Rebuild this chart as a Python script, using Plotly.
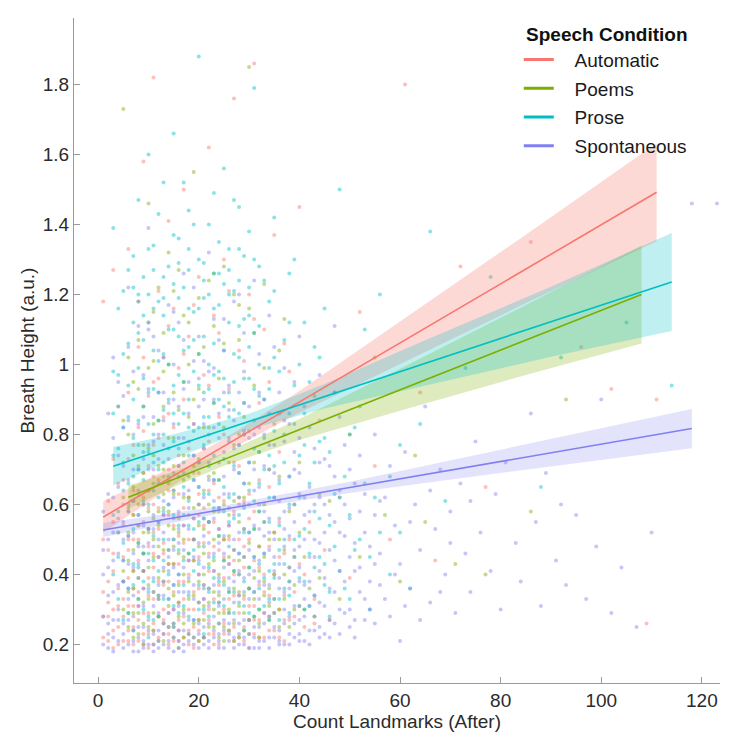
import plotly.graph_objects as go

# ---------------- data ----------------
GROUPS = ["Automatic", "Poems", "Prose", "Spontaneous"]
COLORS = {"Automatic": "#F8766D", "Poems": "#7CAE00", "Prose": "#00BFC4", "Spontaneous": "#8080F2"}
POINT_RGBA = {"Automatic": "rgba(248,118,109,0.45)", "Poems": "rgba(124,174,0,0.45)",
              "Prose": "rgba(0,191,196,0.45)", "Spontaneous": "rgba(128,128,242,0.45)"}
BAND_RGBA = {"Automatic": "rgba(248,118,109,0.28)", "Poems": "rgba(124,174,0,0.25)",
             "Prose": "rgba(0,191,196,0.25)", "Spontaneous": "rgba(128,128,242,0.22)"}

AUTO_PTS = [(1,0.22),(1,0.35),(1,1.18),(2,0.28),(2,0.47),(2,0.61),(3,0.19),(3,0.41),(3,0.73),(3,1.27),(4,0.25),(4,0.52),(4,0.88),(5,0.21),(5,0.33),(5,0.45),(5,0.67),(6,0.24),(6,0.39),(6,0.58),(6,0.92),(6,1.33),(7,0.2),(7,0.31),(7,0.5),(7,0.77),(8,0.27),(8,0.44),(8,0.63),(8,1.05),(9,0.23),(9,0.36),(9,0.55),(9,0.81),(9,1.58),(10,0.19),(10,0.29),(10,0.48),(10,0.71),(10,1.12),(11,0.26),(11,0.42),(11,0.6),(11,0.95),(11,1.82),(12,0.22),(12,0.34),(12,0.53),(12,0.79),(12,1.21),(13,0.3),(13,0.46),(13,0.68),(13,1.02),(14,0.2),(14,0.38),(14,0.57),(14,0.86),(14,1.41),(15,0.25),(15,0.43),(15,0.64),(15,1.16),(16,0.21),(16,0.32),(16,0.51),(16,0.74),(17,0.28),(17,0.49),(17,0.9),(17,1.5),(18,0.24),(18,0.4),(18,0.62),(18,1.08),(19,0.19),(19,0.35),(19,0.56),(19,0.83),(20,0.27),(20,0.45),(20,0.69),(20,1.25),(21,0.22),(21,0.37),(21,0.59),(21,0.97),(22,0.3),(22,0.52),(22,0.78),(22,1.62),(23,0.2),(23,0.41),(23,0.66),(23,1.14),(24,0.26),(24,0.47),(24,0.85),(25,0.23),(25,0.39),(25,0.61),(25,1.3),(26,0.33),(26,0.54),(26,0.93),(27,0.21),(27,0.44),(27,0.72),(27,1.76),(28,0.29),(28,0.5),(28,1.04),(29,0.25),(29,0.42),(29,0.8),(30,0.19),(30,0.36),(30,0.63),(30,1.2),(31,0.31),(31,0.58),(31,1.86),(32,0.27),(32,0.48),(32,0.89),(33,0.22),(33,0.4),(33,1.1),(34,0.34),(34,0.65),(35,0.24),(35,0.52),(35,1.37),(36,0.3),(36,0.75),(37,0.21),(37,0.46),(38,0.38),(38,0.98),(39,0.28),(39,0.6),(40,0.43),(40,1.45),(41,0.25),(42,0.55),(43,0.33),(44,0.84),(45,0.47),(46,0.27),(48,0.62),(50,0.39),(52,1.15),(55,0.71),(58,0.5),(61,1.8),(64,0.92),(67,0.44),(72,1.28),(77,0.65),(86,1.35),(96,1.05),(102,0.93),(109,0.26),(111,0.9),
            (1,0.28),(1,0.5),(2,0.21),(2,0.38),(3,0.3),(3,0.55),(4,0.2),(4,0.36),(4,0.66),(5,0.28),(5,0.54),(6,0.31),(6,0.47),(6,0.73),(7,0.25),(7,0.41),(7,0.64),(8,0.21),(8,0.35),(8,0.54),(8,0.82),(9,0.29),(9,0.46),(9,0.69),(10,0.23),(10,0.39),(10,0.59),(10,0.91),(11,0.2),(11,0.33),(11,0.52),(11,0.77),(12,0.28),(12,0.45),(12,0.67),(13,0.23),(13,0.37),(13,0.57),(13,0.85),(14,0.29),(14,0.47),(14,0.7),(15,0.21),(15,0.35),(15,0.54),(15,0.82),(16,0.27),(16,0.43),(16,0.63),(16,0.99),(17,0.22),(17,0.38),(17,0.59),(18,0.3),(18,0.5),(18,0.76),(19,0.25),(19,0.44),(19,0.69),(20,0.21),(20,0.36),(20,0.57),(21,0.29),(21,0.49),(21,0.76),(22,0.23),(22,0.41),(22,0.64),(23,0.33),(23,0.55),(24,0.2),(24,0.37),(24,0.62),(25,0.3),(25,0.5),(25,0.8),(26,0.24),(26,0.43),(27,0.34),(27,0.58),(28,0.22),(28,0.4),(28,0.71),(29,0.33),(29,0.61),(30,0.27),(30,0.5),(31,0.23),(31,0.44),(32,0.37),(32,0.67),(33,0.29),(33,0.55),(34,0.24),(34,0.48),(35,0.4),(36,0.22),(36,0.55),(37,0.34),(38,0.27),(39,0.45),(40,0.31)]
AUTO_PTS_B = [(2,0.32),(3,0.24),(3,0.46),(4,0.31),(5,0.38),(5,0.6),(6,0.21),(6,0.5),(7,0.36),(7,0.57),(8,0.31),(8,0.5),(9,0.2),(9,0.41),(9,0.62),(10,0.34),(10,0.53),(11,0.24),(11,0.46),(11,0.68),(12,0.38),(12,0.59),(13,0.27),(13,0.49),(14,0.23),(14,0.43),(14,0.64),(15,0.3),(15,0.5),(16,0.24),(16,0.38),(16,0.57),(17,0.33),(17,0.54),(18,0.2),(18,0.44),(19,0.3),(19,0.5),(20,0.24),(20,0.4),(20,0.63),(21,0.33),(21,0.54),(22,0.27),(22,0.46),(23,0.23),(23,0.48),(24,0.32),(24,0.53),(25,0.26),(25,0.45),(26,0.29),(26,0.5),(27,0.25),(27,0.4),(28,0.34),(28,0.6),(29,0.21),(29,0.48),(30,0.31),(30,0.56),(31,0.27),(32,0.22),(32,0.42),(33,0.35),(34,0.28),(35,0.33),(36,0.45),(37,0.27),(38,0.5),(39,0.35),(41,0.4),(43,0.26),
              (9,1.02),(12,0.96),(14,1.11),(17,1.03),(19,1.17),(22,0.94),(24,1.09),(26,1.21),(29,1.01),(31,1.13),(34,0.95),(37,1.06)]

POEM_PTS = [(5,0.3),(5,0.62),(5,1.73),(6,0.25),(6,0.44),(6,0.8),(7,0.22),(7,0.36),(7,0.57),(7,0.95),(8,0.29),(8,0.49),(8,0.71),(8,1.18),(9,0.2),(9,0.41),(9,0.6),(9,0.88),(10,0.33),(10,0.52),(10,0.76),(10,1.46),(11,0.24),(11,0.45),(11,0.66),(11,1.01),(12,0.28),(12,0.39),(12,0.58),(12,0.84),(12,1.22),(13,0.21),(13,0.47),(13,0.7),(13,1.09),(14,0.31),(14,0.54),(14,0.79),(14,1.32),(15,0.26),(15,0.43),(15,0.63),(15,0.92),(16,0.19),(16,0.37),(16,0.56),(16,0.87),(16,1.27),(17,0.3),(17,0.5),(17,0.74),(17,1.14),(18,0.23),(18,0.46),(18,0.68),(18,1.0),(19,0.34),(19,0.59),(19,0.9),(19,1.55),(20,0.27),(20,0.48),(20,0.73),(20,1.19),(21,0.22),(21,0.4),(21,0.64),(21,1.05),(22,0.32),(22,0.55),(22,0.82),(22,1.24),(23,0.25),(23,0.44),(23,0.69),(23,1.11),(24,0.29),(24,0.51),(24,0.96),(25,0.21),(25,0.38),(25,0.6),(25,1.28),(26,0.35),(26,0.57),(26,0.89),(27,0.26),(27,0.47),(27,0.77),(27,1.2),(28,0.31),(28,0.62),(28,1.07),(29,0.24),(29,0.45),(29,0.85),(30,0.36),(30,0.66),(30,1.16),(30,1.85),(31,0.28),(31,0.53),(31,0.94),(32,0.22),(32,0.41),(32,0.75),(33,0.34),(33,0.6),(33,1.23),(34,0.27),(34,0.5),(35,0.4),(35,0.83),(36,0.3),(36,0.68),(37,0.47),(37,1.13),(38,0.25),(38,0.58),(39,0.37),(40,0.72),(41,0.3),(42,0.52),(43,0.91),(44,0.39),(46,0.61),(48,0.33),(50,0.8),(52,0.45),(55,1.02),(57,0.57),(60,0.38),(63,0.74),(65,0.55),(71,0.43),(77,0.4),(86,0.58),(93,0.9),
            (5,0.41),(5,0.84),(6,0.35),(6,0.59),(6,1.02),(7,0.29),(7,0.47),(7,0.74),(8,0.23),(8,0.39),(8,0.6),(8,0.93),(9,0.32),(9,0.52),(9,0.77),(10,0.25),(10,0.42),(10,0.64),(10,0.99),(11,0.35),(11,0.56),(11,0.83),(12,0.21),(12,0.48),(12,0.71),(13,0.38),(13,0.59),(13,0.88),(14,0.25),(14,0.43),(14,0.66),(14,1.0),(15,0.34),(15,0.53),(15,0.79),(16,0.28),(16,0.46),(16,0.71),(17,0.22),(17,0.4),(17,0.62),(17,0.95),(18,0.33),(18,0.57),(18,0.85),(19,0.26),(19,0.44),(19,0.71),(20,0.21),(20,0.38),(20,0.6),(20,0.93),(21,0.31),(21,0.53),(21,0.82),(22,0.25),(22,0.43),(22,0.68),(23,0.35),(23,0.58),(23,0.89),(24,0.22),(24,0.4),(24,0.67),(25,0.29),(25,0.5),(25,0.82),(26,0.24),(26,0.45),(26,0.72),(27,0.36),(27,0.61),(28,0.22),(28,0.44),(28,0.8),(29,0.34),(29,0.62),(30,0.27),(30,0.49),(31,0.39),(31,0.72),(32,0.3),(32,0.58),(33,0.45),(34,0.36),(34,0.7),(35,0.29),(36,0.5),(37,0.33),(38,0.42),(40,0.52),(42,0.36),(44,0.63)]
POEM_PTS_B = [(6,0.29),(6,0.52),(7,0.41),(7,0.65),(8,0.33),(8,0.54),(9,0.26),(9,0.46),(9,0.69),(10,0.37),(10,0.58),(11,0.29),(11,0.5),(11,0.74),(12,0.33),(12,0.54),(13,0.26),(13,0.41),(13,0.63),(14,0.36),(14,0.58),(15,0.22),(15,0.48),(15,0.71),(16,0.32),(16,0.52),(17,0.26),(17,0.45),(17,0.67),(18,0.38),(18,0.62),(19,0.22),(19,0.5),(20,0.32),(20,0.54),(21,0.27),(21,0.46),(22,0.36),(22,0.6),(23,0.3),(23,0.5),(24,0.34),(24,0.58),(25,0.25),(25,0.44),(26,0.3),(26,0.51),(27,0.21),(27,0.41),(28,0.35),(28,0.55),(29,0.29),(29,0.53),(30,0.23),(30,0.42),(31,0.33),(32,0.26),(32,0.48),(33,0.38),(34,0.31),(35,0.52),(36,0.25),(37,0.4),(39,0.3),(41,0.45),(43,0.28),
              (8,1.07),(11,1.15),(13,0.98),(15,1.21),(18,1.12),(20,1.03),(23,1.26),(25,1.06),(28,1.17),(31,1.09),(33,0.99),(36,1.04)]

PROSE_PTS = [(3,0.4),(3,0.74),(3,1.39),(4,0.33),(4,0.58),(4,0.97),(5,0.27),(5,0.49),(5,0.82),(5,1.21),(6,0.36),(6,0.66),(6,1.06),(7,0.24),(7,0.53),(7,0.79),(7,1.31),(8,0.42),(8,0.7),(8,0.99),(8,1.47),(9,0.3),(9,0.61),(9,0.88),(9,1.25),(10,0.22),(10,0.46),(10,0.75),(10,1.12),(10,1.6),(11,0.38),(11,0.64),(11,0.93),(11,1.34),(12,0.28),(12,0.55),(12,0.84),(12,1.18),(13,0.44),(13,0.72),(13,1.03),(13,1.52),(14,0.33),(14,0.6),(14,0.9),(14,1.28),(15,0.25),(15,0.5),(15,0.78),(15,1.1),(15,1.66),(16,0.4),(16,0.68),(16,0.97),(16,1.36),(17,0.31),(17,0.57),(17,0.86),(17,1.22),(18,0.46),(18,0.74),(18,1.05),(18,1.44),(19,0.27),(19,0.53),(19,0.81),(19,1.15),(20,0.37),(20,0.65),(20,0.94),(20,1.3),(20,1.88),(21,0.23),(21,0.48),(21,0.77),(21,1.08),(22,0.42),(22,0.71),(22,1.0),(22,1.4),(23,0.32),(23,0.59),(23,0.89),(23,1.26),(24,0.26),(24,0.51),(24,0.83),(24,1.17),(25,0.44),(25,0.73),(25,1.04),(25,1.56),(26,0.35),(26,0.62),(26,0.92),(26,1.33),(27,0.29),(27,0.56),(27,0.87),(27,1.21),(28,0.4),(28,0.69),(28,1.02),(28,1.45),(29,0.24),(29,0.52),(29,0.8),(29,1.13),(30,0.36),(30,0.64),(30,0.96),(30,1.38),(31,0.45),(31,0.76),(31,1.09),(31,1.79),(32,0.3),(32,0.58),(32,0.91),(33,0.39),(33,0.7),(33,1.24),(34,0.27),(34,0.55),(34,0.99),(35,0.43),(35,0.81),(35,1.42),(36,0.33),(36,0.66),(37,0.5),(37,1.07),(38,0.38),(38,0.86),(39,0.6),(39,1.3),(40,0.31),(40,0.74),(41,0.53),(42,0.95),(43,0.42),(44,0.78),(45,1.16),(46,0.35),(47,0.63),(48,1.5),(50,0.57),(52,0.88),(54,0.45),(56,1.2),(58,0.68),(60,0.52),(62,0.36),(64,0.83),(66,1.38),(69,0.61),(73,0.99),(78,1.25),(88,0.65),(92,1.02),(105,1.12),(114,0.94),
             (3,0.57),(3,0.98),(4,0.45),(4,0.76),(4,1.16),(5,0.38),(5,0.64),(5,1.03),(6,0.29),(6,0.51),(6,0.85),(6,1.27),(7,0.43),(7,0.68),(7,1.12),(8,0.33),(8,0.57),(8,0.84),(8,1.2),(9,0.46),(9,0.75),(9,1.07),(10,0.35),(10,0.6),(10,0.92),(10,1.33),(11,0.27),(11,0.51),(11,0.8),(11,1.16),(12,0.41),(12,0.7),(12,1.01),(12,1.43),(13,0.33),(13,0.58),(13,0.87),(13,1.25),(14,0.47),(14,0.76),(14,1.1),(15,0.37),(15,0.64),(15,0.94),(15,1.37),(16,0.29),(16,0.54),(16,0.83),(16,1.19),(17,0.44),(17,0.72),(17,1.04),(17,1.52),(18,0.34),(18,0.61),(18,0.9),(18,1.27),(19,0.41),(19,0.67),(19,0.98),(19,1.4),(20,0.3),(20,0.55),(20,0.82),(20,1.16),(21,0.36),(21,0.63),(21,0.92),(21,1.29),(22,0.28),(22,0.55),(22,0.85),(22,1.2),(23,0.45),(23,0.74),(23,1.06),(23,1.49),(24,0.38),(24,0.67),(24,0.98),(24,1.35),(25,0.31),(25,0.58),(25,0.88),(25,1.23),(26,0.48),(26,0.78),(26,1.12),(27,0.41),(27,0.71),(27,1.03),(27,1.47),(28,0.32),(28,0.57),(28,0.86),(28,1.24),(29,0.38),(29,0.66),(29,0.96),(29,1.31),(30,0.29),(30,0.52),(30,0.81),(30,1.14),(31,0.35),(31,0.61),(31,0.93),(31,1.3),(32,0.43),(32,0.75),(32,1.11),(33,0.31),(33,0.55),(33,0.9),(34,0.41),(34,0.74),(34,1.18),(35,0.33),(35,0.62),(35,1.02),(36,0.47),(36,0.86),(37,0.36),(37,0.72),(38,0.29),(38,0.6),(38,1.12),(39,0.45),(39,0.83),(40,0.51),(40,1.0),(41,0.38),(41,0.77),(42,0.31),(42,0.66),(43,0.58),(43,1.05),(44,0.45),(45,0.37),(45,0.79),(46,0.54),(47,0.92),(48,0.41),(49,0.68),(50,0.33),(51,0.82),(52,0.5),(53,1.1),(55,0.62)]
PROSE_PTS_B = [(3,0.86),(4,0.52),(4,0.88),(5,0.44),(5,0.72),(6,0.58),(6,0.94),(7,0.37),(7,0.61),(7,0.9),(8,0.49),(8,0.77),(8,1.09),(9,0.38),(9,0.67),(9,0.96),(10,0.28),(10,0.53),(10,0.83),(10,1.2),(11,0.44),(11,0.72),(11,1.04),(12,0.34),(12,0.62),(12,0.92),(13,0.5),(13,0.8),(13,1.14),(14,0.4),(14,0.68),(14,1.0),(15,0.31),(15,0.57),(15,0.86),(15,1.23),(16,0.47),(16,0.76),(16,1.08),(17,0.37),(17,0.65),(17,0.95),(18,0.28),(18,0.54),(18,0.82),(18,1.16),(19,0.47),(19,0.74),(19,1.07),(20,0.43),(20,0.72),(20,1.03),(21,0.3),(21,0.56),(21,0.85),(21,1.19),(22,0.35),(22,0.63),(22,0.93),(23,0.39),(23,0.67),(23,0.97),(24,0.32),(24,0.59),(24,0.9),(24,1.26),(25,0.37),(25,0.65),(25,0.96),(26,0.29),(26,0.55),(26,0.85),(26,1.2),(27,0.35),(27,0.63),(27,0.95),(28,0.46),(28,0.77),(28,1.11),(29,0.31),(29,0.59),(29,0.89),(30,0.42),(30,0.72),(30,1.05),(31,0.28),(31,0.53),(31,0.84),(32,0.36),(32,0.66),(32,1.0),(33,0.46),(33,0.79),(34,0.33),(34,0.62),(34,0.93),(35,0.39),(35,0.71),(36,0.27),(36,0.54),(36,0.98),(37,0.43),(37,0.8),(38,0.34),(38,0.68),(39,0.5),(39,0.94),(40,0.39),(40,0.62),(41,0.3),(41,0.86),(42,0.46),(43,0.34),(43,0.72),(44,0.56),(45,0.43),(46,0.28),(46,0.75),(47,0.48),(48,0.62),(49,0.36),(50,0.8),(51,0.47),(53,0.66),(54,0.3),(56,0.52),(58,0.4),(60,0.77),
               (7,1.22),(9,1.14),(11,1.27),(13,1.19),(16,1.29),(18,1.33),(21,1.24),(23,1.16),(26,1.27),(28,1.33),(30,1.22),(32,1.28),(35,1.21),(38,1.26),(41,1.12),(44,1.02)]

SPONT_PTS = [(1,0.2),(1,0.4),(1,0.58),(2,0.26),(2,0.5),(2,0.86),(3,0.22),(3,0.35),(3,0.62),(3,1.02),(4,0.3),(4,0.46),(4,0.74),(5,0.19),(5,0.38),(5,0.55),(5,0.91),(6,0.27),(6,0.43),(6,0.67),(6,1.22),(7,0.21),(7,0.34),(7,0.52),(7,0.8),(8,0.18),(8,0.31),(8,0.48),(8,0.7),(8,1.11),(9,0.25),(9,0.41),(9,0.6),(9,0.97),(10,0.2),(10,0.36),(10,0.53),(10,0.77),(10,1.39),(11,0.23),(11,0.39),(11,0.57),(11,0.85),(12,0.19),(12,0.29),(12,0.45),(12,0.66),(12,1.04),(13,0.26),(13,0.42),(13,0.61),(13,0.92),(14,0.21),(14,0.33),(14,0.5),(14,0.73),(14,1.17),(15,0.18),(15,0.3),(15,0.47),(15,0.69),(15,1.0),(16,0.24),(16,0.4),(16,0.58),(16,0.88),(17,0.2),(17,0.35),(17,0.54),(17,0.79),(17,1.26),(18,0.27),(18,0.44),(18,0.64),(18,0.95),(19,0.22),(19,0.37),(19,0.56),(19,0.83),(20,0.19),(20,0.32),(20,0.49),(20,0.72),(20,1.08),(21,0.25),(21,0.42),(21,0.62),(21,0.9),(22,0.21),(22,0.36),(22,0.55),(22,0.8),(22,1.32),(23,0.28),(23,0.46),(23,0.67),(23,0.99),(24,0.23),(24,0.39),(24,0.59),(24,0.86),(25,0.19),(25,0.33),(25,0.51),(25,0.75),(25,1.13),(26,0.26),(26,0.43),(26,0.63),(26,0.94),(27,0.22),(27,0.38),(27,0.57),(27,0.84),(28,0.2),(28,0.34),(28,0.52),(28,0.77),(28,1.2),(29,0.27),(29,0.45),(29,0.66),(29,0.98),(30,0.23),(30,0.4),(30,0.6),(30,0.88),(31,0.19),(31,0.35),(31,0.54),(31,0.8),(31,1.24),(32,0.25),(32,0.44),(32,0.65),(33,0.21),(33,0.37),(33,0.58),(33,0.9),(34,0.28),(34,0.47),(34,0.7),(35,0.22),(35,0.41),(35,0.62),(35,1.05),(36,0.2),(36,0.36),(36,0.56),(37,0.26),(37,0.48),(37,0.78),(38,0.23),(38,0.42),(38,0.68),(39,0.31),(39,0.55),(39,0.95),(40,0.21),(40,0.38),(40,0.63),(41,0.28),(41,0.5),(42,0.24),(42,0.45),(42,0.82),(43,0.34),(43,0.6),(44,0.22),(44,0.49),(45,0.39),(45,0.73),(46,0.27),(46,0.57),(47,0.44),(47,0.92),(48,0.3),(48,0.64),(49,0.51),(50,0.25),(50,0.7),(51,0.41),(52,0.58),(53,0.33),(54,0.48),(55,0.8),(56,0.37),(57,0.62),(58,0.28),(59,0.54),(60,0.43),(60,0.21),(61,0.75),(62,0.36),(63,0.6),(64,0.47),(65,0.88),(66,0.32),(67,0.53),(68,0.7),(69,0.4),(70,0.58),(71,0.29),(72,0.66),(73,0.46),(74,0.35),(75,0.78),(76,0.52),(78,0.41),(79,0.63),(80,0.3),(81,0.72),(83,0.49),(84,0.38),(86,0.86),(87,0.55),(88,0.31),(89,0.69),(91,0.44),(92,0.6),(93,0.37),(95,0.57),(97,0.33),(99,0.48),(100,0.9),(102,0.29),(104,0.42),(107,0.25),(110,0.52),(118,1.46),(123,1.46),
             (1,0.28),(1,0.47),(2,0.19),(2,0.34),(2,0.63),(3,0.27),(3,0.44),(3,0.79),(4,0.21),(4,0.37),(4,0.56),(4,0.95),(5,0.26),(5,0.44),(5,0.71),(6,0.2),(6,0.33),(6,0.51),(6,0.84),(7,0.24),(7,0.42),(7,0.61),(7,0.98),(8,0.22),(8,0.39),(8,0.57),(8,0.83),(9,0.19),(9,0.31),(9,0.48),(9,0.73),(10,0.24),(10,0.44),(10,0.64),(10,0.93),(11,0.2),(11,0.31),(11,0.48),(11,0.7),(11,1.08),(12,0.24),(12,0.37),(12,0.55),(12,0.8),(13,0.2),(13,0.34),(13,0.52),(13,0.77),(14,0.25),(14,0.41),(14,0.6),(14,0.89),(15,0.22),(15,0.37),(15,0.56),(15,0.83),(16,0.19),(16,0.31),(16,0.49),(16,0.71),(16,1.12),(17,0.24),(17,0.42),(17,0.63),(17,0.93),(18,0.21),(18,0.35),(18,0.53),(18,0.78),(19,0.27),(19,0.45),(19,0.67),(19,1.01),(20,0.23),(20,0.4),(20,0.6),(20,0.88),(21,0.2),(21,0.33),(21,0.51),(21,0.76),(22,0.26),(22,0.45),(22,0.67),(22,0.98),(23,0.22),(23,0.37),(23,0.56),(23,0.82),(24,0.19),(24,0.31),(24,0.49),(24,0.72),(24,1.07),(25,0.24),(25,0.42),(25,0.63),(25,0.92),(26,0.21),(26,0.36),(26,0.54),(26,0.79),(27,0.27),(27,0.47),(27,0.7),(28,0.23),(28,0.41),(28,0.62),(28,0.92),(29,0.2),(29,0.35),(29,0.53),(29,0.81),(30,0.27),(30,0.47),(30,0.72),(31,0.22),(31,0.41),(31,0.64),(32,0.19),(32,0.33),(32,0.53),(32,0.82),(33,0.26),(33,0.46),(33,0.71),(34,0.22),(34,0.37),(34,0.56),(34,0.86),(35,0.29),(35,0.5),(35,0.77),(36,0.24),(36,0.43),(36,0.67),(37,0.2),(37,0.35),(37,0.58),(38,0.28),(38,0.51),(38,0.83),(39,0.22),(39,0.41),(39,0.7),(40,0.27),(40,0.48),(40,0.79),(41,0.21),(41,0.37),(41,0.62),(42,0.31),(42,0.58),(43,0.24),(43,0.45),(43,0.76),(44,0.32),(44,0.62),(45,0.23),(45,0.52),(46,0.36),(46,0.71),(47,0.26),(47,0.55),(48,0.41),(48,0.85),(49,0.29),(49,0.6),(50,0.45),(51,0.27),(51,0.66),(52,0.35),(53,0.52),(54,0.3),(55,0.43),(56,0.61)]
SPONT_PTS_B = [(2,0.23),(2,0.42),(3,0.18),(3,0.52),(4,0.27),(4,0.65),(5,0.23),(5,0.5),(5,0.82),(6,0.36),(6,0.6),(7,0.18),(7,0.28),(7,0.46),(7,0.7),(8,0.25),(8,0.43),(8,0.64),(9,0.21),(9,0.36),(9,0.54),(9,0.85),(10,0.27),(10,0.49),(10,0.7),(11,0.18),(11,0.35),(11,0.53),(11,0.78),(12,0.21),(12,0.33),(12,0.5),(12,0.73),(12,0.92),(13,0.23),(13,0.38),(13,0.57),(13,0.84),(14,0.19),(14,0.29),(14,0.45),(14,0.67),(15,0.26),(15,0.42),(15,0.62),(15,0.9),(16,0.21),(16,0.35),(16,0.53),(16,0.79),(17,0.18),(17,0.29),(17,0.47),(17,0.69),(18,0.23),(18,0.39),(18,0.59),(18,0.86),(19,0.2),(19,0.33),(19,0.5),(19,0.74),(20,0.26),(20,0.44),(20,0.65),(20,0.96),(21,0.22),(21,0.37),(21,0.56),(21,0.83),(22,0.19),(22,0.31),(22,0.49),(22,0.72),(23,0.24),(23,0.41),(23,0.61),(23,0.9),(24,0.21),(24,0.35),(24,0.53),(24,0.79),(25,0.27),(25,0.46),(25,0.68),(26,0.23),(26,0.39),(26,0.59),(26,0.87),(27,0.19),(27,0.32),(27,0.5),(27,0.76),(28,0.26),(28,0.46),(28,0.69),(29,0.22),(29,0.39),(29,0.6),(29,0.89),(30,0.19),(30,0.33),(30,0.52),(30,0.79),(31,0.25),(31,0.45),(31,0.7),(32,0.21),(32,0.38),(32,0.6),(32,0.92),(33,0.29),(33,0.51),(33,0.8),(34,0.19),(34,0.32),(34,0.52),(34,0.77),(35,0.25),(35,0.45),(35,0.69),(36,0.21),(36,0.39),(36,0.61),(36,0.92),(37,0.3),(37,0.53),(37,0.84),(38,0.2),(38,0.36),(38,0.59),(39,0.26),(39,0.47),(39,0.75),(40,0.23),(40,0.42),(40,0.69),(41,0.33),(41,0.57),(41,0.88),(42,0.2),(42,0.38),(42,0.65),(43,0.28),(43,0.5),(44,0.25),(44,0.41),(44,0.72),(45,0.31),(45,0.6),(46,0.22),(46,0.47),(47,0.35),(47,0.68),(48,0.23),(48,0.52),(49,0.38),(49,0.77),(50,0.3),(50,0.56),(51,0.22),(51,0.49),(52,0.42),(52,0.74),(53,0.27),(53,0.63),(54,0.38),(55,0.26),(55,0.57),(56,0.46),(57,0.33),(58,0.71),(59,0.4),(61,0.31),(62,0.55),(64,0.27),(66,0.64),(68,0.35),(70,0.49),(74,0.61),
               (6,1.05),(8,1.18),(10,1.1),(13,1.02),(15,1.15),(17,1.07),(19,1.22),(21,1.01),(23,1.13),(25,1.04),(27,1.18),(29,1.09),(32,1.03),(34,1.14),(37,0.99),(40,1.08),(44,0.97),(47,1.11)]

POINTS = {"Automatic": AUTO_PTS + AUTO_PTS_B, "Poems": POEM_PTS + POEM_PTS_B,
          "Prose": PROSE_PTS + PROSE_PTS_B, "Spontaneous": SPONT_PTS + SPONT_PTS_B}

# fitted lines (start/end)
LINE_X = {"Automatic": [1, 111], "Poems": [6, 108], "Prose": [3, 114], "Spontaneous": [1, 118]}
LINE_Y = {"Automatic": [0.564, 1.492], "Poems": [0.621, 1.200], "Prose": [0.709, 1.236], "Spontaneous": [0.527, 0.817]}

# confidence bands (x positions, lower, upper)
BAND_X = {"Automatic": [1, 15, 25, 40, 60, 85, 111],
          "Poems": [6, 15, 25, 40, 60, 85, 108],
          "Prose": [3, 15, 30, 45, 65, 90, 114],
          "Spontaneous": [1, 25, 50, 75, 100, 118]}
BAND_LO = {"Automatic": [0.519, 0.655, 0.747, 0.862, 1.001, 1.175, 1.352],
           "Poems": [0.588, 0.650, 0.711, 0.784, 0.868, 0.970, 1.060],
           "Prose": [0.654, 0.731, 0.815, 0.874, 0.939, 1.022, 1.096],
           "Spontaneous": [0.507, 0.577, 0.633, 0.681, 0.728, 0.761]}
BAND_HI = {"Automatic": [0.609, 0.709, 0.787, 0.924, 1.123, 1.371, 1.632],
           "Poems": [0.654, 0.694, 0.747, 0.844, 0.988, 1.170, 1.340],
           "Prose": [0.764, 0.801, 0.859, 0.944, 1.069, 1.222, 1.376],
           "Spontaneous": [0.547, 0.597, 0.665, 0.741, 0.818, 0.873]}

X_TICKS = [0, 20, 40, 60, 80, 100, 120]
Y_TICKS = [0.2, 0.4, 0.6, 0.8, 1.0, 1.2, 1.4, 1.6, 1.8]
Y_TICK_TEXT = ["0.2", "0.4", "0.6", "0.8", "1", "1.2", "1.4", "1.6", "1.8"]

# ---------------- figure ----------------
FONT = "Liberation Sans, Arial, Helvetica, sans-serif"
NB = "\u00a0"
fig = go.Figure()

for g in GROUPS:
    pts = POINTS[g]
    fig.add_trace(go.Scatter(x=[p[0] for p in pts], y=[p[1] for p in pts], mode="markers",
                             marker=dict(size=4, color=POINT_RGBA[g], line=dict(width=0)),
                             showlegend=False, hoverinfo="skip"))

for g in GROUPS:
    bx = BAND_X[g]
    fig.add_trace(go.Scatter(x=bx + bx[::-1], y=BAND_HI[g] + BAND_LO[g][::-1],
                             fill="toself", fillcolor=BAND_RGBA[g], line=dict(width=0),
                             mode="lines", showlegend=False, hoverinfo="skip"))

for g in GROUPS:
    fig.add_trace(go.Scatter(x=LINE_X[g], y=LINE_Y[g], mode="lines",
                             line=dict(color=COLORS[g], width=1.6), showlegend=False))

# legend entries (thicker sample lines)
for g in GROUPS:
    fig.add_trace(go.Scatter(x=[None], y=[None], mode="lines", name=NB * 3 + g, legendgroup=g,
                             line=dict(color=COLORS[g], width=3)))

axis_common = dict(showline=True, linecolor="#9a9a9a", linewidth=1.3, ticks="inside",
                   ticklen=6, tickcolor="#9a9a9a", tickwidth=1.3, showgrid=False,
                   zeroline=False, tickfont=dict(size=19, color="#2b2b2b", family=FONT),
                   mirror=False)

fig.update_layout(
    width=730, height=738,
    margin=dict(l=74, r=10, t=18, b=52),
    paper_bgcolor="white", plot_bgcolor="white",
    font=dict(family=FONT, size=19, color="#2b2b2b"),
    xaxis=dict(range=[-4.8, 123.6], tickvals=X_TICKS, **axis_common,
               title=dict(text="Count Landmarks (After)", font=dict(size=19, color="#2b2b2b"), standoff=4)),
    yaxis=dict(range=[0.09, 1.99], tickvals=Y_TICKS, ticktext=Y_TICK_TEXT, **axis_common,
               title=dict(text="Breath Height (a.u.)", font=dict(size=19, color="#2b2b2b"), standoff=2)),
    legend=dict(x=0.6885, y=1.003, xanchor="left", yanchor="top", bgcolor="rgba(0,0,0,0)",
                title=dict(text=NB + "<b>Speech Condition</b>", font=dict(size=19, color="#111")),
                font=dict(size=19, color="#1a1a1a"), itemwidth=30, tracegroupgap=1),
)

fig.write_html("out.html")
